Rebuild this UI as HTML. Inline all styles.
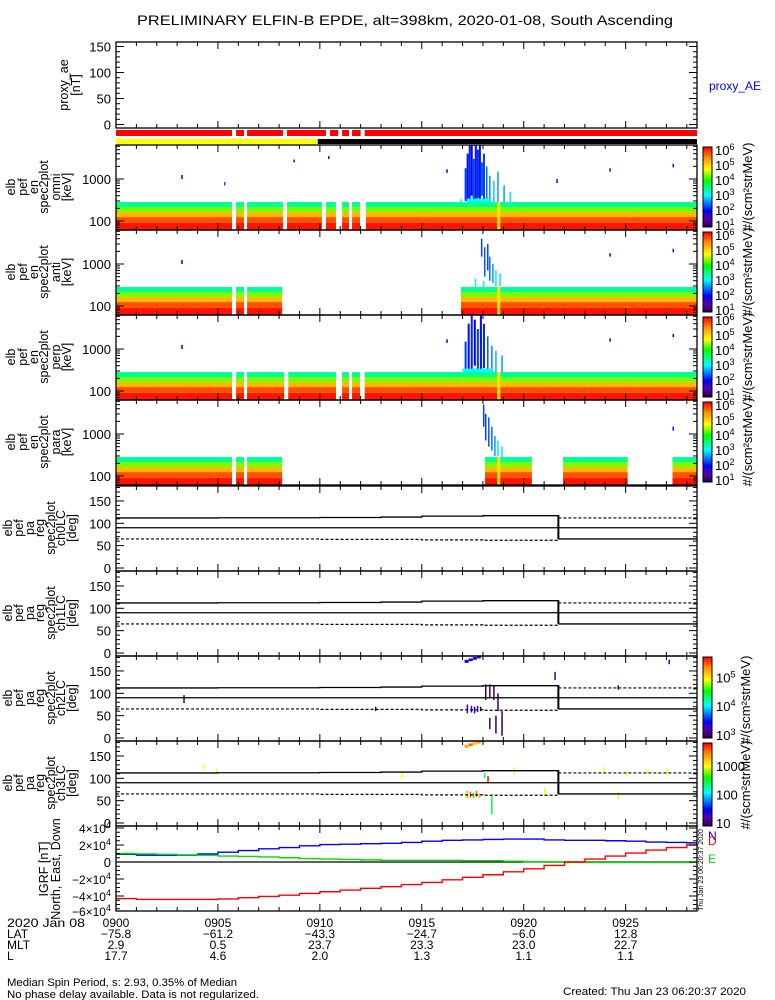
<!DOCTYPE html>
<html><head><meta charset="utf-8"><title>ELFIN-B EPDE</title>
<style>
html,body{margin:0;padding:0;background:#fff;}
svg{display:block;font-family:"Liberation Sans",sans-serif;}
text{fill:#000;}
</style></head>
<body>
<svg id="chart" xmlns="http://www.w3.org/2000/svg" width="775" height="1000" viewBox="0 0 775 1000">
<rect x="0" y="0" width="775" height="1000" fill="#fff"/>
<text x="405" y="25" font-size="14" text-anchor="middle" textLength="536" lengthAdjust="spacingAndGlyphs">PRELIMINARY ELFIN-B EPDE, alt=398km, 2020-01-08, South Ascending</text>
<text x="709" y="90" font-size="12" fill="#0000ff" style="fill:#0000ff">proxy_AE</text>
<text x="7" y="927" font-size="12" textLength="78" lengthAdjust="spacingAndGlyphs">2020 Jan 08</text>
<text x="7" y="938" font-size="12">LAT</text>
<text x="7" y="949" font-size="12">MLT</text>
<text x="7" y="960" font-size="12">L</text>
<text x="7" y="986" font-size="11" textLength="230" lengthAdjust="spacingAndGlyphs">Median Spin Period, s: 2.93, 0.35% of Median</text>
<text x="7" y="998" font-size="11" textLength="252" lengthAdjust="spacingAndGlyphs">No phase delay available. Data is not regularized.</text>
<text x="563" y="995" font-size="11" textLength="183" lengthAdjust="spacingAndGlyphs">Created: Thu Jan 23 06:20:37 2020</text>
</svg>
<script>
// ---------- data ----------
const timeTicks = [0,5,10,15,20,25];
const timeLabels = ["0900","0905","0910","0915","0920","0925"];
const latVals = ["-75.8","-61.2","-43.3","-24.7","-6.0","12.8"];
const mltVals = ["2.9","0.5","23.7","23.3","23.0","22.7"];
const lVals = ["17.7","4.6","2.0","1.3","1.1","1.1"];

const energyEdges = [61,90,124,164,215,283];
const energyFlux = [6.1,5.8,5.2,4.3,3.4];

const covOmni = [[0,5.69],[5.89,6.28],[6.43,8.19],[8.39,10.1],[10.3,10.79],[11.09,11.43],[11.58,11.97],[12.26,28.5]];
const covAnti = [[0,5.69],[5.89,6.28],[6.43,8.15],[16.92,28.5]];
const covPerp = [[0,5.69],[5.89,6.28],[6.43,8.25],[8.45,10.79],[11.09,11.43],[11.58,11.97],[12.2,28.5]];
const covPara = [[0,5.69],[5.89,6.28],[6.43,8.15],[18.1,20.4],[21.93,25.1],[27.3,28.5]];
const statusCov = [[0,5.69],[5.89,6.28],[6.43,8.19],[8.39,10.3],[10.5,10.9],[11.09,11.43],[11.58,12.0],[12.2,28.5]];
const sciZoneEnd = 9.9;

// burst / speckle events: [t0, t1, eLow, eHigh, log10 flux]
const evOmni = [[17.1,17.2,300,1800,2.2],[17.2,17.3,283,4000,2.0],[17.3,17.4,283,6450,2.1],[17.4,17.5,400,6450,1.9],[17.5,17.6,283,3000,2.2],[17.6,17.7,283,6450,2.0],[17.7,17.8,350,5000,2.1],[17.8,17.9,283,6450,2.0],[17.9,18.0,400,2500,2.3],[18.0,18.1,283,4000,2.2],[18.15,18.22,300,2000,2.4],[18.3,18.36,283,1200,2.5],[18.5,18.56,283,900,2.8],[18.7,18.76,283,1500,2.6],[19.0,19.06,283,700,2.6],[19.3,19.36,283,500,2.9],[17.2,18.4,283,340,3.0],[16.9,16.95,283,330,3.1],
  [18.7,18.85,61,283,4.9],
  [3.2,3.27,1000,1250,1.9],[5.3,5.36,700,850,2.3],[8.7,8.77,2500,2900,1.9],[10.4,10.46,3000,3500,1.9],[24.2,24.27,1500,1800,1.9],[27.3,27.36,1900,2300,1.9],[16.2,16.26,1400,1700,1.9],[21.6,21.66,800,1000,2.0]];
const evAnti = [[17.9,17.96,1500,4000,2.2],[18.05,18.12,500,2500,2.3],[18.2,18.26,700,3000,2.2],[18.3,18.36,400,1500,2.4],[18.45,18.5,350,1000,2.6],[18.6,18.66,300,700,2.9],[18.8,18.86,300,600,2.9],[17.6,17.66,283,450,3.1],[18.0,18.06,283,400,3.1],[18.7,18.85,61,283,4.9],[3.2,3.27,1000,1250,1.9],[24.2,24.27,1500,1800,1.9],[27.3,27.36,1900,2300,1.9]];
const evPerp = [[17.1,17.2,300,1500,2.2],[17.25,17.35,283,4000,2.0],[17.4,17.5,300,6450,2.1],[17.55,17.65,400,5000,1.9],[17.7,17.8,283,3000,2.2],[17.85,17.95,283,6450,2.0],[18.0,18.1,350,4000,2.1],[18.2,18.27,300,2000,2.3],[18.4,18.46,283,1200,2.5],[18.6,18.66,283,900,2.7],[18.9,18.96,283,700,2.6],[17.0,18.5,283,340,3.0],
  [18.7,18.85,61,283,4.9],[3.2,3.27,1000,1250,1.9],[24.2,24.27,1500,1800,1.9],[27.3,27.36,1900,2300,1.9],[16.2,16.26,1400,1700,1.9]];
const evPara = [[18.0,18.06,1500,5000,2.2],[18.1,18.16,700,3000,2.2],[18.25,18.31,500,2500,2.3],[18.4,18.46,400,1500,2.4],[18.55,18.6,300,900,2.6],[18.7,18.76,300,700,2.9],[18.9,18.96,283,500,2.9],[18.7,18.85,61,283,4.9],[27.3,27.36,1200,1500,1.9]];

// pitch-angle boundary lines
const lineTimes = [0,5,10,13,15,18,21.7];
const upperPA = [112,112.5,113,114,116,117,118];
const lowerPA = [65,65,64,64,63,62,61];
const postTimes = [21.7,28.5];
const postUpper = [112,112];
const postLower = [65,65];

// pitch-angle spectrogram events: [t0, t1, pa0, pa1, log10 flux]
const evCh2 = [[17.1,17.3,168,175,3.3],[17.3,17.5,172,178,3.3],[17.5,17.7,175,181,3.4],[17.7,17.9,178,184,3.3],
  [17.2,17.27,55,75,3.1],[17.4,17.47,57,72,3.3],[17.55,17.62,55,70,3.4],[17.7,17.77,58,72,3.2],[17.85,17.9,60,70,3.0],
  [18.1,18.16,85,120,2.95],[18.3,18.36,90,120,3.0],[18.5,18.56,85,118,2.95],[18.7,18.76,60,100,2.95],[18.9,18.95,5,60,2.95],[18.6,18.64,10,50,2.95],[18.3,18.34,20,45,3.0],
  [3.3,3.36,78,96,3.0],[12.7,12.76,60,70,3.0],[24.6,24.66,108,118,3.0],[21.5,21.56,130,148,3.0],[27.1,27.16,165,175,3.0]];
const evCh3 = [[17.1,17.3,168,175,3.3],[17.3,17.5,172,178,3.5],[17.5,17.7,175,181,3.2],[17.7,17.9,178,184,3.4],
  [17.2,17.27,55,72,3.3],[17.35,17.42,57,70,3.6],[17.5,17.57,55,68,2.6],[17.65,17.72,58,72,3.5],[17.8,17.86,56,66,3.3],
  [18.2,18.3,92,105,3.6],[18.05,18.1,100,112,2.0],[18.4,18.45,20,60,2.5],
  [4.3,4.36,120,130,3.0],[4.9,4.96,112,122,3.0],[19.5,19.56,110,125,3.0],[23.9,23.96,110,125,3.0],[25.0,25.06,105,115,3.0],[26.0,26.06,110,120,3.0],[27.0,27.06,110,122,3.0],[21.0,21.06,60,80,3.0],[24.6,24.66,55,70,3.0],[14.0,14.06,100,115,3.0]];

// IGRF model field (1e3 nT)
const igrfT = [0,1,2,3,4,5,6,7,8,9,10,11,12,13,14,15,16,17,18,19,20,21,22,23,24,25,26,27,28,28.5];
const igrfDown = [9,8,8,8,9.5,11.5,13.5,15.5,17,19,20.5,21,21.5,22,23,24.5,25.5,26,26.5,27,27,26,25.5,25.5,25,24.5,23.5,23,22.5,22.5];
const igrfEast = [10,9.5,9,8.5,8,7,6.5,6,5,4,3.5,3,2.5,2,2,2,2,1.5,1.5,1,0.3,0,-0.5,-0.5,-0.5,-0.5,-0.5,-0.5,-0.5,-0.5];
const igrfNorth = [-43,-44,-44,-44,-44,-43.5,-42,-40.5,-39,-37,-35,-33,-31,-29,-26.5,-24,-21,-18,-15,-11.5,-8,-4,0,3.5,7,10.5,14,17,20,21.5];

// ---------- helpers ----------
const NS="http://www.w3.org/2000/svg";
const svg=document.getElementById('chart');
const X0=116,X1=697,T1=28.5;
function xs(t){return X0+t/T1*(X1-X0);}
function mk(tag,attrs,parent){const e=document.createElementNS(NS,tag);for(const k in attrs)e.setAttribute(k,attrs[k]);(parent||svg).appendChild(e);return e;}
const stops=[[0,[40,0,80]],[0.1,[90,0,170]],[0.2,[0,0,255]],[0.4,[0,255,255]],[0.58,[0,255,0]],[0.72,[255,255,0]],[0.86,[255,150,0]],[1,[255,0,0]]];
function cmap(f){f=Math.max(0,Math.min(1,f));for(let i=1;i<stops.length;i++){if(f<=stops[i][0]){const a=stops[i-1],b=stops[i];const u=(f-a[0])/(b[0]-a[0]);const c=a[1].map((v,j)=>Math.round(v+(b[1][j]-v)*u));return 'rgb('+c.join(',')+')';}}return 'rgb(255,0,0)';}

function xAxisTicks(top,bot){
  for(let m=0;m<=28;m++){
    const major=(m%5===0);const L=major?7:4;const x=xs(m);
    let t=mk('line',{x1:x,y1:top,x2:x,y2:top+L,stroke:'#000','stroke-width':1});
    
    
    t=mk('line',{x1:x,y1:bot,x2:x,y2:bot-L,stroke:'#000','stroke-width':1});
    
    
  }
}
function frame(top,bot,name){
  const r=mk('rect',{x:X0,y:top,width:X1-X0,height:bot-top,fill:'none',stroke:'#000','stroke-width':1.3});
  
  
  xAxisTicks(top,bot);
}
function yTick(y,len){
  let t=mk('line',{x1:X0,y1:y,x2:X0+len,y2:y,stroke:'#000','stroke-width':1});
  
  
  t=mk('line',{x1:X1,y1:y,x2:X1-len,y2:y,stroke:'#000','stroke-width':1});
  
  
}
function yLabel(y,txt){
  const t=mk('text',{x:111,y:y+5,'font-size':13,'text-anchor':'end'});
  t.textContent=txt;
  
  
  return t;
}
function sideLabel(lines,xsList,cy,name){
  lines.forEach((s,i)=>{
    const t=mk('text',{x:0,y:0,'font-size':12.5,'text-anchor':'middle',transform:'translate('+xsList[i]+','+cy+') rotate(-90)'});
    t.textContent=s;
    
    
  });
}
function supLabel(x,y,base,exp,size,name){
  const t=mk('text',{x:x,y:y,'font-size':size});
  const a=mk('tspan',{},t);a.textContent=base;
  const b=mk('tspan',{dy:-5,'font-size':size*0.7},t);b.textContent=exp;
  
  
}
function colorbar(top,bot,vmin,vmax,name){
  const g=mk('g',{});
  
  
  for(let y=top;y<bot;y++){
    const f=(bot-y-0.5)/(bot-top);
    const r=mk('rect',{x:703,y:y,width:9,height:1.2,fill:cmap(f)},g);
    
    
  }
  const b=mk('rect',{x:703,y:top,width:9,height:bot-top,fill:'none',stroke:'#000','stroke-width':1},g);
  
  
  const yv=v=>bot-(v-vmin)/(vmax-vmin)*(bot-top);
  return yv;
}

// ---------- AE panel ----------
(function(){
  const top=42,bot=128;const yv=v=>124.5-v*0.52;
  frame(top,bot,'proxy-ae-panel');
  for(let v=0;v<=150;v+=10){yTick(yv(v),v%50===0?8:4);}
  [0,50,100,150].forEach(v=>yLabel(yv(v),String(v)));
  sideLabel(['proxy_ae','[nT]'],[68,80],85,'proxy-ae-axis-title');
})();

// ---------- status bars ----------
statusCov.forEach(c=>{
  const r=mk('rect',{x:xs(c[0]),y:130,width:xs(c[1])-xs(c[0]),height:6,fill:'#ff0000'});
  
  
});
(function(){
  let r=mk('rect',{x:X0,y:139,width:xs(sciZoneEnd)-X0,height:5,fill:'#ffff00'});
  
  
  r=mk('rect',{x:xs(sciZoneEnd),y:139,width:X1-xs(sciZoneEnd),height:5,fill:'#000'});
  
  
})();

// ---------- energy spectrogram panels ----------
const ePanels=[[145,'omni',covOmni,evOmni],[230,'anti',covAnti,evAnti],[315,'perp',covPerp,evPerp],[400,'para',covPara,evPara]];
ePanels.forEach(p=>{
  const top=p[0],bot=top+85,name=p[1];
  const yE=E=>Math.max(top,Math.min(bot,(bot-9)-(Math.log10(E)-2)*42));
  const g=mk('g',{});
  
  
  p[2].forEach(c=>{
    for(let i=0;i<energyFlux.length;i++){
      const y1=yE(energyEdges[i+1]),y0=yE(energyEdges[i]);
      const r=mk('rect',{x:xs(c[0]),y:y1,width:xs(c[1])-xs(c[0]),height:y0-y1,fill:cmap((energyFlux[i]-0.87)/5.33)},g);
      
      
    }
  });
  p[3].forEach(ev=>{
    const y1=yE(ev[3]),y0=yE(ev[2]);
    const r=mk('rect',{x:xs(ev[0]),y:y1,width:Math.max(1.5,xs(ev[1])-xs(ev[0])),height:y0-y1,fill:cmap((ev[4]-0.87)/5.33)},g);
    
    
  });
  frame(top,bot,'energy-'+name+'-panel');
  [70,80,90,100,200,300,400,500,600,700,800,900,1000,2000,3000,4000,5000,6000].forEach(E=>{yTick(yE(E),(E===100||E===1000)?8:4);});
  yLabel(yE(100),'100');yLabel(yE(1000),'1000');
  sideLabel(['elb','pef','en','spec2plot',name,'[keV]'],[15,27,38,48,60,71],top+42,'energy-axis-title');
  const yv=colorbar(top+2,top+82,0.87,6.2,'colorbar-'+name);
  for(let n=1;n<=6;n++){supLabel(715,yv(n)+5,'10',String(n),13,'colorbar-tick-label');}
  const t=mk('text',{x:0,y:0,'font-size':13,'text-anchor':'middle',transform:'translate(752,'+(top+42)+') rotate(-90)'});
  t.textContent='#/(scm\u00B2strMeV)';
  
  
});

// ---------- pitch-angle panels ----------
const paPanels=[[486,'ch0LC',null],[571,'ch1LC',null],[656,'ch2LC',evCh2],[741,'ch3LC',evCh3]];
function stepPath(ts,vs,yv){let d='';for(let i=0;i<ts.length;i++){const x=xs(ts[i]),y=yv(vs[i]);if(i===0)d+='M'+x+','+y;else d+='V'+y;const xn=i<ts.length-1?xs(ts[i+1]):x;d+='H'+xn;}return d;}
paPanels.forEach((p,idx)=>{
  const top=p[0],bot=top+85,name=p[1];
  const yP=a=>Math.max(top,Math.min(bot,(bot-3)-a*0.447));
  const g=mk('g',{});
  
  
  if(p[2]){
    const vmin=idx===2?2.9:0.9,vmax=idx===2?5.7:3.8;
    p[2].forEach(ev=>{
      const y1=yP(ev[3]),y0=yP(ev[2]);
      const r=mk('rect',{x:xs(ev[0]),y:y1,width:Math.max(1.5,xs(ev[1])-xs(ev[0])),height:y0-y1,fill:cmap((ev[4]-vmin)/(vmax-vmin))},g);
      
      
    });
  }
  let l=mk('path',{d:stepPath(lineTimes,upperPA,yP),fill:'none',stroke:'#000','stroke-width':1.3});
  
  
  l=mk('path',{d:stepPath(lineTimes,lowerPA,yP),fill:'none',stroke:'#000','stroke-width':1.2,'stroke-dasharray':'3,2'});
  
  
  l=mk('line',{x1:X0,x2:X1,y1:yP(90),y2:yP(90),stroke:'#000','stroke-width':1.3});
  
  
  l=mk('path',{d:stepPath(postTimes,postUpper,yP),fill:'none',stroke:'#000','stroke-width':1.2,'stroke-dasharray':'3,2'});
  
  
  l=mk('path',{d:stepPath(postTimes,postLower,yP),fill:'none',stroke:'#000','stroke-width':1.3});
  
  
  const xj=xs(lineTimes[lineTimes.length-1]);
  l=mk('line',{x1:xj,x2:xj,y1:yP(upperPA[upperPA.length-1]),y2:yP(postLower[0]),stroke:'#000','stroke-width':2});
  
  
  frame(top,bot,'pa-'+name+'-panel');
  for(let v=0;v<=180;v+=10){yTick(yP(v),v%50===0?8:4);}
  [0,50,100,150].forEach(v=>yLabel(yP(v),String(v)));
  sideLabel(['elb','pef','pa','reg','spec2plot',name,'[deg]'],[12,23,34,44,55,65,76],top+42,'pa-axis-title');
  if(idx===2){
    const yv=colorbar(657,738,2.9,5.7,'colorbar-ch2');
    [3,4,5].forEach(n=>supLabel(716,yv(n)+5,'10',String(n),13,'colorbar-tick-label'));
    const t=mk('text',{x:0,y:0,'font-size':13,'text-anchor':'middle',transform:'translate(750,700) rotate(-90)'});
    t.textContent='#/(scm\u00B2strMeV)';
    
    
  }
  if(idx===3){
    const yv=colorbar(743,826,0.9,3.8,'colorbar-ch3');
    [[1,'10'],[2,'100'],[3,'1000']].forEach(a=>{const t=mk('text',{x:716,y:yv(a[0])+5,'font-size':13});t.textContent=a[1];
      
      });
    const t=mk('text',{x:0,y:0,'font-size':13,'text-anchor':'middle',transform:'translate(750,785) rotate(-90)'});
    t.textContent='#/(scm\u00B2strMeV)';
    
    
  }
});

// ---------- IGRF panel ----------
(function(){
  const top=826,bot=911;const yv=v=>Math.max(top,Math.min(bot,862-v*0.85));
  let l=mk('line',{x1:X0,x2:X1,y1:yv(0),y2:yv(0),stroke:'#000','stroke-width':1.3});
  
  
  const series=[[igrfDown,'#0000ff','igrf-down-line'],[igrfEast,'#00dd00','igrf-east-line'],[igrfNorth,'#ff0000','igrf-north-line']];
  series.forEach(s=>{
    const p=mk('path',{d:stepPath(igrfT,s[0],yv),fill:'none',stroke:s[1],'stroke-width':1.4});
    
    
  });
  frame(top,bot,'igrf-panel');
  for(let v=-55;v<=40;v+=5){yTick(yv(v),v%20===0?8:4);}
  [40,20,0,-20,-40,-60].forEach(v=>{
    if(v===0){yLabel(yv(0),'0');}
    else{const t=mk('text',{x:111,y:yv(v)+5,'font-size':12,'text-anchor':'end'});
      const a=mk('tspan',{},t);a.textContent=(v<0?'\u2212':'')+Math.abs(v/10)+'\u00D710';
      const b=mk('tspan',{dy:-5,'font-size':9},t);b.textContent='4';
      
      }
  });
  sideLabel(['IGRF [nT]','North, East, Down'],[48,60],869,'igrf-axis-title');
  [['N','#0000ff',708,840],['D','#ff0000',708,845],['E','#00dd00',708,863]].forEach(a=>{
    const t=mk('text',{x:a[2],y:a[3],'font-size':12,style:'fill:'+a[1]});t.textContent=a[0];
    
    
  });
  const t=mk('text',{x:0,y:0,'font-size':7,'text-anchor':'middle',transform:'translate(703,870) rotate(-90)'});
  t.textContent='Thu Jan 23 06:20:37 2020';
  
  
})();

// ---------- bottom time axis labels ----------
timeTicks.forEach((m,i)=>{
  const rows=[[timeLabels[i],927],[latVals[i],938],[mltVals[i],949],[lVals[i],960]];
  rows.forEach(r=>{
    const t=mk('text',{x:xs(m),y:r[1],'font-size':12,'text-anchor':'middle'});
    t.textContent=r[0].replace('-','\u2212');
    
    
  });
});
</script>
</body></html>
